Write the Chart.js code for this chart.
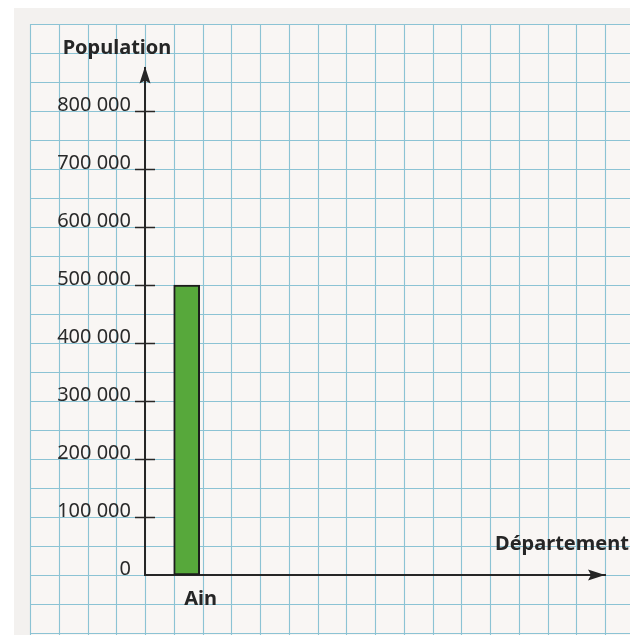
<!DOCTYPE html>
<html>
<head>
<meta charset="utf-8">
<script src="https://cdn.jsdelivr.net/npm/chart.js@4.4.1/dist/chart.umd.min.js"></script>
<style>
  html, body { margin: 0; padding: 0; background: #fff; }
  #wrap { width: 630px; height: 635px; }
</style>
</head>
<body>
<div id="wrap"><canvas id="chart"></canvas></div>
<script>
// data
const departements = ['Ain'];
const populations = [500000];
const yTicks = [0, 100000, 200000, 300000, 400000, 500000, 600000, 700000, 800000];
const yTitle = 'Population';
const xTitle = 'Département';

// layout (x axis counted in paper squares)
const barSlot = 1.45;
const ink = '#262626';
const paperLine = 'rgba(112, 182, 204, 0.8)';
const fontFamily = '"Noto Sans", "Open Sans", sans-serif';

const fmt = v => String(v).replace(/\B(?=(\d{3})+(?!\d))/g, ' ');

// squared paper behind the chart + arrows, tick marks and titles on top
const paperPlugin = {
  id: 'paper',
  beforeDraw(chart) {
    const { ctx, width, height, scales: { x, y } } = chart;
    ctx.save();
    ctx.fillStyle = '#ffffff';
    ctx.fillRect(0, 0, width, height);
    const gx0 = x.getPixelForValue(-4);
    const gy0 = y.getPixelForValue(950000);
    ctx.fillStyle = '#f3f1ef';
    ctx.fillRect(gx0 - 16, gy0 - 16, width, height);
    ctx.fillStyle = '#f9f6f4';
    ctx.fillRect(gx0, gy0, width, height);
    ctx.strokeStyle = paperLine;
    ctx.lineWidth = 1.1;
    ctx.beginPath();
    for (let k = -4; k <= 17; k++) {
      const px = Math.round(x.getPixelForValue(k)) + 0.5;
      if (px > width) break;
      ctx.moveTo(px, gy0);
      ctx.lineTo(px, height);
    }
    for (let k = -2; k <= 19; k++) {
      const py = Math.round(y.getPixelForValue(k * 50000)) + 0.5;
      ctx.moveTo(gx0, py);
      ctx.lineTo(width, py);
    }
    ctx.stroke();
    ctx.restore();
  },
  afterDraw(chart) {
    const { ctx, chartArea: a, scales: { y } } = chart;
    ctx.save();
    ctx.fillStyle = ink;
    ctx.strokeStyle = ink;

    // tick marks crossing the vertical axis
    ctx.lineWidth = 1.5;
    ctx.beginPath();
    y.ticks.forEach(t => {
      if (t.value === 0) return;
      const py = Math.round(y.getPixelForValue(t.value)) + 0.5;
      ctx.moveTo(a.left - 10, py);
      ctx.lineTo(a.left + 10, py);
    });
    ctx.stroke();

    // arrow heads
    const head = (tx, ty, dx, dy) => {
      const len = 17, half = 5.5, notch = 3;
      const nx = -dy, ny = dx;
      ctx.beginPath();
      ctx.moveTo(tx, ty);
      ctx.lineTo(tx - dx * len + nx * half, ty - dy * len + ny * half);
      ctx.lineTo(tx - dx * (len - notch), ty - dy * (len - notch));
      ctx.lineTo(tx - dx * len - nx * half, ty - dy * len - ny * half);
      ctx.closePath();
      ctx.fill();
    };
    head(a.left, a.top - 1, 0, -1);
    head(a.right, a.bottom, 1, 0);

    // axis titles
    ctx.font = 'bold 20px ' + fontFamily;
    ctx.textBaseline = 'middle';
    ctx.textAlign = 'center';
    ctx.fillText(yTitle, a.left - 28, a.top - 19);
    ctx.textAlign = 'left';
    ctx.fillText(xTitle, a.right - 110, a.bottom - 31);
    ctx.restore();
  }
};

new Chart(document.getElementById('chart'), {
  type: 'bar',
  data: {
    datasets: [{
      label: yTitle,
      data: departements.map((d, i) => ({ x: barSlot + i * 2, y: populations[i] })),
      backgroundColor: '#57a83b',
      borderColor: '#1c1c1c',
      borderWidth: 2,
      borderSkipped: false,
      barThickness: 26
    }]
  },
  options: {
    responsive: true,
    maintainAspectRatio: false,
    animation: false,
    layout: { padding: { left: 0, top: 67.5, right: 25, bottom: 0 } },
    plugins: {
      legend: { display: false },
      tooltip: { enabled: false }
    },
    scales: {
      x: {
        type: 'linear',
        min: 0,
        max: 16,
        offset: false,
        grid: { display: false },
        border: { display: true, color: ink, width: 2 },
        afterBuildTicks: s => {
          s.ticks = departements.map((d, i) => ({ value: barSlot + i * 2 }));
        },
        ticks: {
          callback: (v, i) => departements[i],
          font: { family: fontFamily, size: 20, weight: 'bold' },
          color: ink,
          padding: 4,
          labelOffset: 14,
          maxRotation: 0,
          autoSkip: false
        },
        afterFit: s => { s.height = 60; }
      },
      y: {
        min: 0,
        max: 875000,
        grid: { display: false },
        border: { display: true, color: ink, width: 2 },
        afterBuildTicks: s => {
          s.ticks = yTicks.map(v => ({ value: v }));
        },
        ticks: {
          callback: v => fmt(v),
          font: { family: fontFamily, size: 20 },
          color: '#2a2a2a',
          padding: 6,
          labelOffset: -6,
          autoSkip: false
        },
        afterFit: s => { s.width = 145; }
      }
    }
  },
  plugins: [paperPlugin]
});
</script>
</body>
</html>
